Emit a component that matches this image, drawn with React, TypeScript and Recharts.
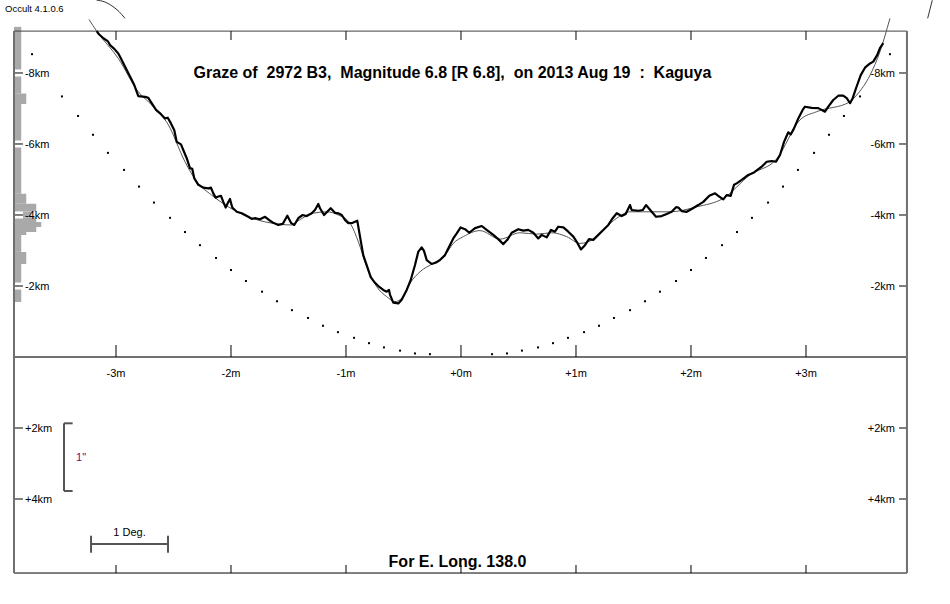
import React from "react";
import { ComposedChart, Line, Scatter, XAxis, YAxis, ReferenceLine, ReferenceArea } from "recharts";

// Graze profile of 2972 B3: minutes from central time (x) against km from the
// mean limb (y, negative = north, drawn upward).
const profilePoints: [number, number][] = [
  [-3.168, -9.18], [-3.148, -9.09], [-3.11, -8.98], [-3.072, -8.9], [-3.052, -8.79], [-3.015, -8.68],
  [-2.98, -8.55], [-2.957, -8.41], [-2.922, -8.18], [-2.878, -7.9], [-2.841, -7.66], [-2.806, -7.35],
  [-2.748, -7.33], [-2.719, -7.3], [-2.69, -7.15], [-2.652, -6.96], [-2.609, -6.84], [-2.574, -6.72],
  [-2.55, -6.74], [-2.522, -6.58], [-2.493, -6.39], [-2.472, -6.06], [-2.435, -5.99], [-2.415, -5.83],
  [-2.385, -5.6], [-2.357, -5.32], [-2.337, -5.3], [-2.319, -5.03], [-2.284, -4.85], [-2.241, -4.77],
  [-2.197, -4.75], [-2.174, -4.77], [-2.154, -4.61], [-2.133, -4.49], [-2.11, -4.52], [-2.087, -4.54],
  [-2.067, -4.37], [-2.046, -4.21], [-2.029, -4.33], [-2.009, -4.45], [-1.989, -4.21], [-1.95, -4.09],
  [-1.907, -4.05], [-1.878, -4.0], [-1.85, -3.95], [-1.82, -3.89], [-1.785, -3.91], [-1.748, -3.88],
  [-1.704, -3.95], [-1.67, -3.86], [-1.632, -3.78], [-1.589, -3.72], [-1.55, -3.75], [-1.51, -3.98],
  [-1.476, -3.77], [-1.45, -3.72], [-1.415, -3.91], [-1.377, -4.0], [-1.342, -3.97], [-1.298, -4.05],
  [-1.27, -4.14], [-1.241, -4.31], [-1.226, -4.19], [-1.191, -4.0], [-1.163, -4.09], [-1.133, -4.19],
  [-1.096, -4.06], [-1.067, -4.05], [-1.037, -4.0], [-1.009, -3.86], [-0.98, -3.77], [-0.942, -3.78],
  [-0.902, -3.84], [-0.878, -3.39], [-0.85, -2.87], [-0.815, -2.54], [-0.785, -2.25], [-0.748, -2.09],
  [-0.713, -1.98], [-0.676, -1.89], [-0.646, -1.84], [-0.626, -1.89], [-0.617, -1.75], [-0.589, -1.53],
  [-0.545, -1.51], [-0.516, -1.61], [-0.472, -1.89], [-0.437, -2.17], [-0.4, -2.59], [-0.371, -2.97],
  [-0.342, -3.09], [-0.322, -2.99], [-0.298, -2.73], [-0.255, -2.62], [-0.217, -2.66], [-0.183, -2.73],
  [-0.139, -2.87], [-0.102, -3.11], [-0.067, -3.34], [-0.037, -3.48], [-0.003, -3.65], [0.035, -3.6],
  [0.072, -3.5], [0.122, -3.63], [0.18, -3.69], [0.223, -3.58], [0.281, -3.44], [0.324, -3.32],
  [0.368, -3.18], [0.403, -3.3], [0.441, -3.5], [0.498, -3.6], [0.542, -3.56], [0.585, -3.58],
  [0.629, -3.5], [0.672, -3.34], [0.702, -3.44], [0.745, -3.37], [0.783, -3.58], [0.817, -3.53],
  [0.846, -3.67], [0.89, -3.65], [0.933, -3.53], [0.977, -3.39], [1.011, -3.22], [1.043, -3.03],
  [1.078, -3.15], [1.113, -3.32], [1.15, -3.3], [1.194, -3.44], [1.237, -3.58], [1.281, -3.72],
  [1.319, -3.91], [1.354, -4.05], [1.397, -3.97], [1.432, -4.03], [1.47, -4.28], [1.484, -4.14],
  [1.542, -4.12], [1.58, -4.14], [1.609, -4.28], [1.658, -4.09], [1.696, -3.95], [1.745, -3.97],
  [1.789, -4.03], [1.832, -4.09], [1.87, -4.22], [1.89, -4.21], [1.919, -4.11], [1.963, -4.09],
  [2.006, -4.17], [2.063, -4.28], [2.107, -4.37], [2.159, -4.54], [2.209, -4.61], [2.246, -4.52],
  [2.281, -4.44], [2.31, -4.56], [2.345, -4.54], [2.374, -4.85], [2.397, -4.89], [2.441, -4.99],
  [2.498, -5.13], [2.548, -5.2], [2.577, -5.27], [2.615, -5.36], [2.658, -5.5], [2.702, -5.52],
  [2.739, -5.5], [2.774, -5.69], [2.809, -6.06], [2.846, -6.33], [2.867, -6.27], [2.896, -6.44],
  [2.933, -6.72], [2.971, -6.96], [2.991, -7.05], [3.05, -7.02], [3.107, -7.01], [3.165, -6.91],
  [3.194, -7.05], [3.237, -7.24], [3.281, -7.36], [3.324, -7.36], [3.354, -7.29], [3.383, -7.15],
  [3.406, -7.29], [3.435, -7.57], [3.476, -7.94], [3.513, -8.15], [3.557, -8.27], [3.585, -8.32],
  [3.62, -8.51], [3.643, -8.7], [3.672, -8.84],
];

// smoothed limb profile (thin grey)
const smoothPoints: [number, number][] = [
  [-3.235, -9.51], [-3.168, -9.18], [-2.98, -8.41], [-2.806, -7.47], [-2.69, -7.1], [-2.545, -6.54],
  [-2.4, -5.5], [-2.298, -4.94], [-2.168, -4.56], [-2.023, -4.23], [-1.85, -3.95], [-1.646, -3.77],
  [-1.472, -3.72], [-1.429, -3.81], [-1.284, -4.05], [-1.168, -4.09], [-1.067, -4.0], [-0.965, -3.77],
  [-0.893, -3.25], [-0.82, -2.54], [-0.733, -1.98], [-0.646, -1.7], [-0.574, -1.56], [-0.516, -1.65],
  [-0.443, -2.08], [-0.357, -2.4], [-0.241, -2.64], [-0.139, -2.87], [-0.067, -3.2], [0.02, -3.39],
  [0.165, -3.56], [0.339, -3.32], [0.513, -3.5], [0.658, -3.46], [0.789, -3.5], [0.919, -3.39],
  [1.035, -3.2], [1.15, -3.32], [1.237, -3.58], [1.354, -3.91], [1.47, -4.09], [1.643, -4.09],
  [1.817, -4.09], [2.05, -4.23], [2.281, -4.47], [2.513, -5.13], [2.745, -5.58], [2.948, -6.68],
  [3.093, -6.91], [3.383, -7.19], [3.441, -7.38], [3.557, -7.94], [3.643, -8.6], [3.73, -9.54],
];

// stray limb pieces above the frame
const outerLeftPoints: [number, number][] = [
  [-3.168, -10.05], [-3.096, -10.0], [-3.026, -9.87], [-2.974, -9.73], [-2.922, -9.54],
];
const outerRightPoints: [number, number][] = [[4.098, -10.05], [4.058, -9.54]];

// dotted curve (8 s spacing), one side; the other side mirrors it
const limbDotMinutes = [
  0.27, 0.4, 0.53, 0.67, 0.8, 0.93, 1.07, 1.2, 1.33, 1.47, 1.6, 1.73, 1.87, 2.0, 2.13, 2.27, 2.4,
  2.53, 2.67, 2.8, 2.93, 3.07, 3.2, 3.33, 3.47, 3.73,
];
const limbDotKm = [
  -0.08, -0.1, -0.18, -0.27, -0.39, -0.54, -0.7, -0.88, -1.1, -1.32, -1.57, -1.84, -2.14, -2.45, -2.79,
  -3.15, -3.52, -3.92, -4.35, -4.8, -5.27, -5.75, -6.26, -6.79, -7.34, -8.53,
];

// histogram of points against km, along the left edge
const histTopKm = [-9.3, -7.42, -7.13, -4.6, -4.32, -4.1, -3.94, -3.8, -3.66, -3.52, -3.44, -2.96, -2.62];
const histBottomKm = [-7.42, -7.13, -4.6, -4.32, -4.1, -3.94, -3.8, -3.66, -3.52, -3.44, -2.96, -2.62, -1.55];
const histCount = [1, 2, 1, 2, 4, 3, 4, 5, 4, 2, 1, 2, 1];

const minuteTicks = [-3, -2, -1, 0, 1, 2, 3];
const minuteLabels = ["-3m", "-2m", "-1m", "+0m", "+1m", "+2m", "+3m"];
const kmTicks = [-8, -6, -4, -2, 2, 4];
const kmLabels = ["-8km", "-6km", "-4km", "-2km", "+2km", "+4km"];

const FONT = "Arial, 'Liberation Sans', sans-serif";
const X_DOMAIN: [number, number] = [-4.0087, 4.2522];
const Y_DOMAIN: [number, number] = [-10.0563, 6.9577];
const L = -3.887;
const R = 3.878;
const T = -9.18;
const B = 6.085;
const HIST_STEP = 0.0435;
const FRAME_GREY = "#707070";

function seg(x1: number, y1: number, x2: number, y2: number) {
  return [{ x: x1, y: y1 }, { x: x2, y: y2 }] as any;
}

export default function App() {
  const profile = profilePoints.map(([t, km]) => ({ t, km }));
  const smooth = smoothPoints.map(([t, km]) => ({ t, km }));
  const outerLeft = outerLeftPoints.map(([t, km]) => ({ t, km }));
  const outerRight = outerRightPoints.map(([t, km]) => ({ t, km }));
  const dots = [
    ...limbDotMinutes.map((t, i) => ({ t: -t, km: limbDotKm[i] })),
    ...limbDotMinutes.map((t, i) => ({ t, km: limbDotKm[i] })),
  ];
  const labelStyle = { fill: "#000", fontSize: 11, fontFamily: FONT };

  return (
    <div style={{ position: "absolute", left: 0, top: 0, width: 950, height: 604, background: "#fff" }}>
      <ComposedChart width={950} height={604} margin={{ top: 0, right: 0, bottom: 0, left: 0 }}>
        <XAxis type="number" dataKey="t" domain={X_DOMAIN} allowDataOverflow hide />
        <YAxis type="number" dataKey="km" domain={Y_DOMAIN} allowDataOverflow reversed hide />

        {histCount.map((n, i) => (
          <ReferenceArea
            key={`h${i}`}
            x1={L}
            x2={L + (n + 0.45) * HIST_STEP}
            y1={histTopKm[i]}
            y2={histBottomKm[i]}
            fill="#a9a9a9"
            fillOpacity={1}
            stroke="none"
          />
        ))}

        {/* km ticks: white halo, then the tick itself */}
        {kmTicks.map((k) => (
          <ReferenceLine key={`hl${k}`} segment={seg(L + 0.008, k, -3.809, k)} stroke="#fff" strokeWidth={7} />
        ))}
        {kmTicks.map((k, i) => (
          <ReferenceLine
            key={`kl${k}`}
            segment={seg(L, k, -3.809, k)}
            stroke="#000"
            strokeWidth={1}
            label={{ value: kmLabels[i], position: "right", offset: 2, ...labelStyle }}
          />
        ))}
        {kmTicks.map((k, i) => (
          <ReferenceLine
            key={`kr${k}`}
            segment={seg(3.809, k, R, k)}
            stroke="#000"
            strokeWidth={1}
            label={{ value: kmLabels[i], position: "left", offset: 4, ...labelStyle }}
          />
        ))}

        {/* frame */}
        <ReferenceLine segment={seg(L, T, R, T)} stroke="#404040" strokeWidth={1} />
        <ReferenceLine segment={seg(L, B, R, B)} stroke="#000" strokeWidth={1} />
        <ReferenceLine segment={seg(L, T, L, B)} stroke={FRAME_GREY} strokeWidth={2} />
        <ReferenceLine segment={seg(R, T, R, B)} stroke={FRAME_GREY} strokeWidth={2} />
        <ReferenceLine segment={seg(L, 0, R, 0)} stroke={FRAME_GREY} strokeWidth={2} />

        {minuteTicks.map((m) => (
          <ReferenceLine key={`tt${m}`} segment={seg(m, T, m, -8.93)} stroke="#000" strokeWidth={1} />
        ))}
        {minuteTicks.map((m, i) => (
          <ReferenceLine
            key={`tm${m}`}
            segment={seg(m, -0.338, m, 0)}
            stroke="#000"
            strokeWidth={1}
            label={{ value: minuteLabels[i], position: "bottom", offset: 12, ...labelStyle }}
          />
        ))}
        {minuteTicks.map((m) => (
          <ReferenceLine key={`tb${m}`} segment={seg(m, 5.859, m, B)} stroke="#000" strokeWidth={1} />
        ))}

        {/* 1" bracket */}
        <ReferenceLine
          segment={seg(-3.452, 1.868, -3.452, 3.775)}
          stroke="#555"
          strokeWidth={2}
          label={{ value: '1"', position: "right", offset: 12, ...labelStyle, fill: "#800080" }}
        />
        <ReferenceLine segment={seg(-3.452, 1.868, -3.377, 1.868)} stroke="#555" strokeWidth={2} />
        <ReferenceLine segment={seg(-3.452, 3.775, -3.377, 3.775)} stroke="#555" strokeWidth={2} />

        {/* 1 Deg. scale bar */}
        <ReferenceLine
          segment={seg(-3.217, 5.268, -2.548, 5.268)}
          stroke="#555"
          strokeWidth={2}
          label={{ value: "1 Deg.", position: "top", offset: 8, ...labelStyle }}
        />
        <ReferenceLine segment={seg(-3.217, 5.034, -3.217, 5.513)} stroke="#555" strokeWidth={2} />
        <ReferenceLine segment={seg(-2.548, 5.034, -2.548, 5.513)} stroke="#555" strokeWidth={2} />

        <Scatter
          data={dots}
          isAnimationActive={false}
          activeShape={false as any}
          shape={(p: any) => <rect x={p.cx - 1} y={p.cy - 1} width={2} height={2} fill="#000" />}
        />
        <Line data={outerLeft} dataKey="km" type="monotone" stroke="#333" strokeWidth={1} dot={false} activeDot={false} isAnimationActive={false} />
        <Line data={outerRight} dataKey="km" type="linear" stroke="#333" strokeWidth={1} dot={false} activeDot={false} isAnimationActive={false} />
        <Line data={smooth} dataKey="km" type="monotone" stroke="#555" strokeWidth={1} dot={false} activeDot={false} isAnimationActive={false} />
        <Line
          data={profile}
          dataKey="km"
          type="linear"
          stroke="#000"
          strokeWidth={2.2}
          strokeLinejoin="round"
          dot={false}
          activeDot={false}
          isAnimationActive={false}
        />
      </ComposedChart>

      <svg width={950} height={604} style={{ position: "absolute", left: 0, top: 0, pointerEvents: "none" }}>
        <text x={5} y={12} fontSize={9.5} fontFamily={FONT} fill="#000">
          Occult 4.1.0.6
        </text>
        <text
          x={452.5}
          y={78}
          fontSize={16}
          fontWeight="bold"
          fontFamily={FONT}
          textAnchor="middle"
          fill="#000"
          style={{ whiteSpace: "pre" }}
        >
          {"Graze of  2972 B3,  Magnitude 6.8 [R 6.8],  on 2013 Aug 19  :  Kaguya"}
        </text>
        <text x={457.5} y={567} fontSize={16} fontWeight="bold" fontFamily={FONT} textAnchor="middle" fill="#000">
          For E. Long. 138.0
        </text>
      </svg>
    </div>
  );
}
